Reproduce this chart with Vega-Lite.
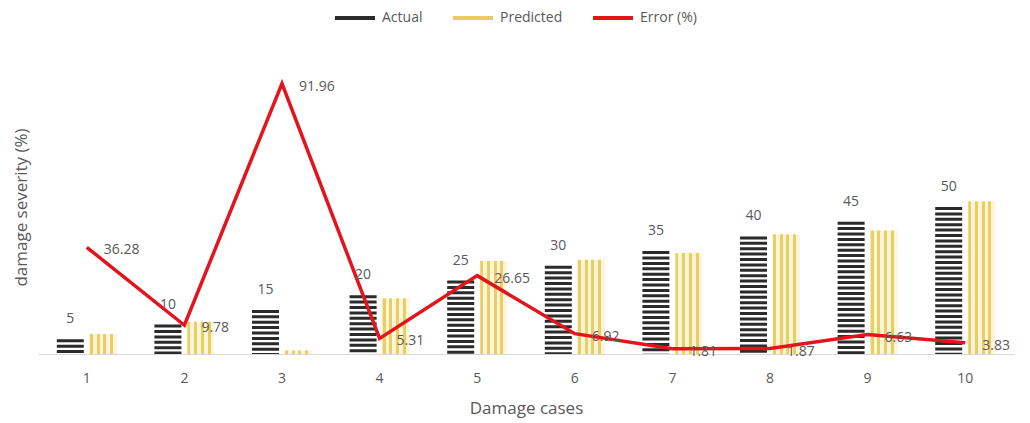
{
  "$schema": "https://vega.github.io/schema/vega-lite/v6.json",
  "width": 976,
  "height": 294,
  "autosize": "none",
  "padding": {"left": 38, "top": 60, "right": 16, "bottom": 69},
  "background": "white",
  "config": {
    "view": {"stroke": null},
    "font": "Open Sans",
    "text": {"font": "Open Sans"}
  },
  "data": {
    "values": [
      {"case": 1, "series": "Actual", "value": 5},
      {"case": 2, "series": "Actual", "value": 10},
      {"case": 3, "series": "Actual", "value": 15},
      {"case": 4, "series": "Actual", "value": 20},
      {"case": 5, "series": "Actual", "value": 25},
      {"case": 6, "series": "Actual", "value": 30},
      {"case": 7, "series": "Actual", "value": 35},
      {"case": 8, "series": "Actual", "value": 40},
      {"case": 9, "series": "Actual", "value": 45},
      {"case": 10, "series": "Actual", "value": 50},
      {"case": 1, "series": "Predicted", "value": 6.81},
      {"case": 2, "series": "Predicted", "value": 10.98},
      {"case": 3, "series": "Predicted", "value": 1.2},
      {"case": 4, "series": "Predicted", "value": 18.94},
      {"case": 5, "series": "Predicted", "value": 31.66},
      {"case": 6, "series": "Predicted", "value": 32.08},
      {"case": 7, "series": "Predicted", "value": 34.37},
      {"case": 8, "series": "Predicted", "value": 40.75},
      {"case": 9, "series": "Predicted", "value": 42.02},
      {"case": 10, "series": "Predicted", "value": 51.92},
      {"case": 1, "series": "Error (%)", "value": 36.28},
      {"case": 2, "series": "Error (%)", "value": 9.78},
      {"case": 3, "series": "Error (%)", "value": 91.96},
      {"case": 4, "series": "Error (%)", "value": 5.31},
      {"case": 5, "series": "Error (%)", "value": 26.65},
      {"case": 6, "series": "Error (%)", "value": 6.92},
      {"case": 7, "series": "Error (%)", "value": 1.81},
      {"case": 8, "series": "Error (%)", "value": 1.87},
      {"case": 9, "series": "Error (%)", "value": 6.63},
      {"case": 10, "series": "Error (%)", "value": 3.83}
    ]
  },
  "encoding": {
    "x": {
      "field": "case",
      "type": "ordinal",
      "scale": {"paddingInner": 0.385, "paddingOuter": 0.1925},
      "axis": {
        "title": "Damage cases",
        "labelAngle": 0,
        "ticks": false,
        "tickSize": 0,
        "labelPadding": 17,
        "labelFontSize": 14,
        "labelColor": "#595959",
        "domainColor": "#D9D9D9",
        "domainWidth": 1,
        "titleFontSize": 17,
        "titleFontWeight": "normal",
        "titleColor": "#595959",
        "titlePadding": 15
      }
    },
    "y": {
      "field": "value",
      "type": "quantitative",
      "scale": {"domain": [0, 100], "nice": false},
      "axis": {
        "title": "damage severity (%)",
        "labels": false,
        "ticks": false,
        "domain": false,
        "grid": false,
        "titleFontSize": 17,
        "titleFontWeight": "normal",
        "titleColor": "#595959",
        "titlePadding": 8
      }
    }
  },
  "layer": [
    {
      "transform": [{"filter": "datum.series === 'Actual'"}],
      "mark": {"type": "rule", "strokeWidth": 27, "strokeDash": [3, 2.4], "strokeCap": "butt", "stroke": "#2B2B2B"},
      "encoding": {
        "xOffset": {"field": "series", "type": "nominal", "scale": {"domain": ["Actual", "Predicted"], "paddingInner": 0.18}},
        "y2": {"datum": 0}
      }
    },
    {
      "transform": [{"filter": "datum.series === 'Predicted'"}],
      "mark": {
        "type": "bar",
        "fill": {
          "gradient": "linear",
          "x1": 0, "y1": 0, "x2": 1, "y2": 0,
          "stops": [
            {"offset": 0, "color": "#EDCD5E"},
            {"offset": 0.11, "color": "#EDCD5E"},
            {"offset": 0.11, "color": "#FDF6DC"},
            {"offset": 0.25, "color": "#FDF6DC"},
            {"offset": 0.25, "color": "#EDCD5E"},
            {"offset": 0.36, "color": "#EDCD5E"},
            {"offset": 0.36, "color": "#FDF6DC"},
            {"offset": 0.5, "color": "#FDF6DC"},
            {"offset": 0.5, "color": "#EDCD5E"},
            {"offset": 0.61, "color": "#EDCD5E"},
            {"offset": 0.61, "color": "#FDF6DC"},
            {"offset": 0.75, "color": "#FDF6DC"},
            {"offset": 0.75, "color": "#EDCD5E"},
            {"offset": 0.86, "color": "#EDCD5E"},
            {"offset": 0.86, "color": "#FDF6DC"},
            {"offset": 1, "color": "#FDF6DC"}
          ]
        }
      },
      "encoding": {
        "xOffset": {"field": "series", "type": "nominal", "scale": {"domain": ["Actual", "Predicted"], "paddingInner": 0.18}}
      }
    },
    {
      "transform": [{"filter": "datum.series === 'Error (%)'"}],
      "mark": {"type": "line", "strokeWidth": 3.5},
      "encoding": {
        "stroke": {
          "field": "series",
          "type": "nominal",
          "scale": {"domain": ["Actual", "Predicted", "Error (%)"], "range": ["#2B2B2B", "#EBCB5E", "#E3141C"]},
          "legend": {
            "title": null,
            "orient": "none",
            "legendX": 295,
            "legendY": -64,
            "direction": "horizontal",
            "symbolType": "stroke",
            "symbolSize": 1600,
            "symbolStrokeWidth": 4,
            "labelFontSize": 14,
            "labelColor": "#595959",
            "labelOffset": 5,
            "columnPadding": 22
          }
        }
      }
    },
    {
      "transform": [{"filter": "datum.series === 'Actual'"}],
      "mark": {"type": "text", "dy": -20, "fontSize": 14, "color": "#595959", "baseline": "middle"},
      "encoding": {
        "xOffset": {"field": "series", "type": "nominal", "scale": {"domain": ["Actual", "Predicted"], "paddingInner": 0.18}},
        "text": {"field": "value", "type": "quantitative"}
      }
    },
    {
      "transform": [{"filter": "datum.series === 'Error (%)'"}],
      "mark": {"type": "text", "dx": 17, "dy": 3, "align": "left", "fontSize": 14, "color": "#595959", "baseline": "middle"},
      "encoding": {
        "text": {"field": "value", "type": "quantitative"}
      }
    }
  ]
}
